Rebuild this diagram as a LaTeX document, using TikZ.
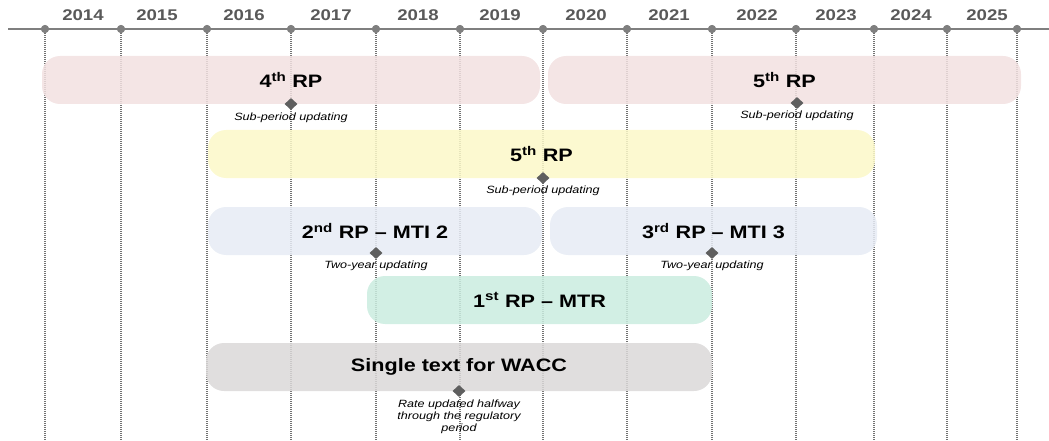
\documentclass[tikz,border=0pt]{standalone}
\usepackage{fontspec}
\setmainfont[FakeStretch=1.2]{Liberation Sans}
\usetikzlibrary{shapes.geometric,positioning}

\definecolor{rpPink}{HTML}{F2E0E0}
\definecolor{rpYellow}{HTML}{FBF8C8}
\definecolor{rpBlue}{HTML}{E6EBF4}
\definecolor{rpGreen}{HTML}{CAECDF}
\definecolor{rpGray}{HTML}{DAD8D8}
\definecolor{axisgray}{HTML}{7F7F7F}
\definecolor{yeargray}{HTML}{595959}
\definecolor{markgray}{HTML}{5F5F5F}

\begin{document}
\begin{tikzpicture}[x=1pt,y=-1pt,
    bar/.style={rounded corners=18pt,minimum height=48pt,inner sep=0pt,
        font=\fontsize{18}{20}\selectfont\bfseries,fill opacity=0.85,text opacity=1},
    updmark/.style={diamond,fill=markgray,inner sep=0pt,minimum width=13pt,minimum height=12pt},
    updnote/.style={font=\fontsize{10.5}{12}\selectfont\itshape,inner sep=0pt,align=center},
    year/.style={font=\fontsize{15.5}{17}\selectfont\bfseries,text=yeargray},
    dotline/.style={draw=axisgray!90!black,line width=1.1pt,dash pattern=on 1pt off 1pt}]

\useasboundingbox (0,0) rectangle (1049,441);

% time axis
\foreach \x [count=\n] in {45,121,207,291,376,460,543,627,712,796,874,947,1017}
{
    \node[circle,fill=axisgray,inner sep=0pt,minimum size=8pt] (t\n) at (\x,29) {};
    \coordinate (b\n) at (\x,441);
    \draw[dotline] (t\n) -- (b\n);
}
\draw[axisgray,line width=2pt] (8,29) -- (1049,29);
\foreach \x [count=\n] in {45,121,207,291,376,460,543,627,712,796,874,947,1017}
    \node[circle,fill=axisgray,inner sep=0pt,minimum size=8pt] at (t\n) {};
\foreach \x/\yr in {83/2014,157/2015,244/2016,331/2017,418/2018,500/2019,586/2020,669/2021,757/2022,836/2023,911/2024,987/2025}
    \node[year] (y\yr) at (\x,15) {\yr};

% regulatory periods
\node[bar,fill=rpPink,minimum width=498pt] (rp4) at (291,80) {4\textsuperscript{th} RP};
\node[bar,fill=rpPink,minimum width=473pt] (rp5) at (784.5,80) {5\textsuperscript{th} RP};
\node[bar,fill=rpYellow,minimum width=667pt] (gas5) at (541.5,154) {5\textsuperscript{th} RP};
\node[bar,fill=rpBlue,minimum width=334pt] (mti2) at (375,231) {2\textsuperscript{nd} RP -- MTI 2};
\node[bar,fill=rpBlue,minimum width=327pt] (mti3) at (713.5,231) {3\textsuperscript{rd} RP -- MTI 3};
\node[bar,fill=rpGreen,minimum width=345pt] (mtr) at (539.5,300) {1\textsuperscript{st} RP -- MTR};
\node[bar,fill=rpGray,minimum width=506pt] (wacc) at (459,367) {Single text for WACC};

% updating points
\node[updmark] (m4) at (291,104) {};
\node[updnote,below=2pt of m4] (n4) {Sub-period updating};
\node[updmark] (m5) at (797,103) {};
\node[updnote,below=1pt of m5] (n5) {Sub-period updating};
\node[updmark] (mg) at (543,178) {};
\node[updnote,below=1pt of mg] (ng) {Sub-period updating};
\node[updmark] (mm2) at (376,253) {};
\node[updnote,below=1pt of mm2] (nm2) {Two-year updating};
\node[updmark] (mm3) at (712,253) {};
\node[updnote,below=1pt of mm3] (nm3) {Two-year updating};
\node[updmark] (mw) at (459,391) {};
\node[updnote,below=2pt of mw] (nw) {Rate updated halfway\\through the regulatory\\period};

\end{tikzpicture}
\end{document}
